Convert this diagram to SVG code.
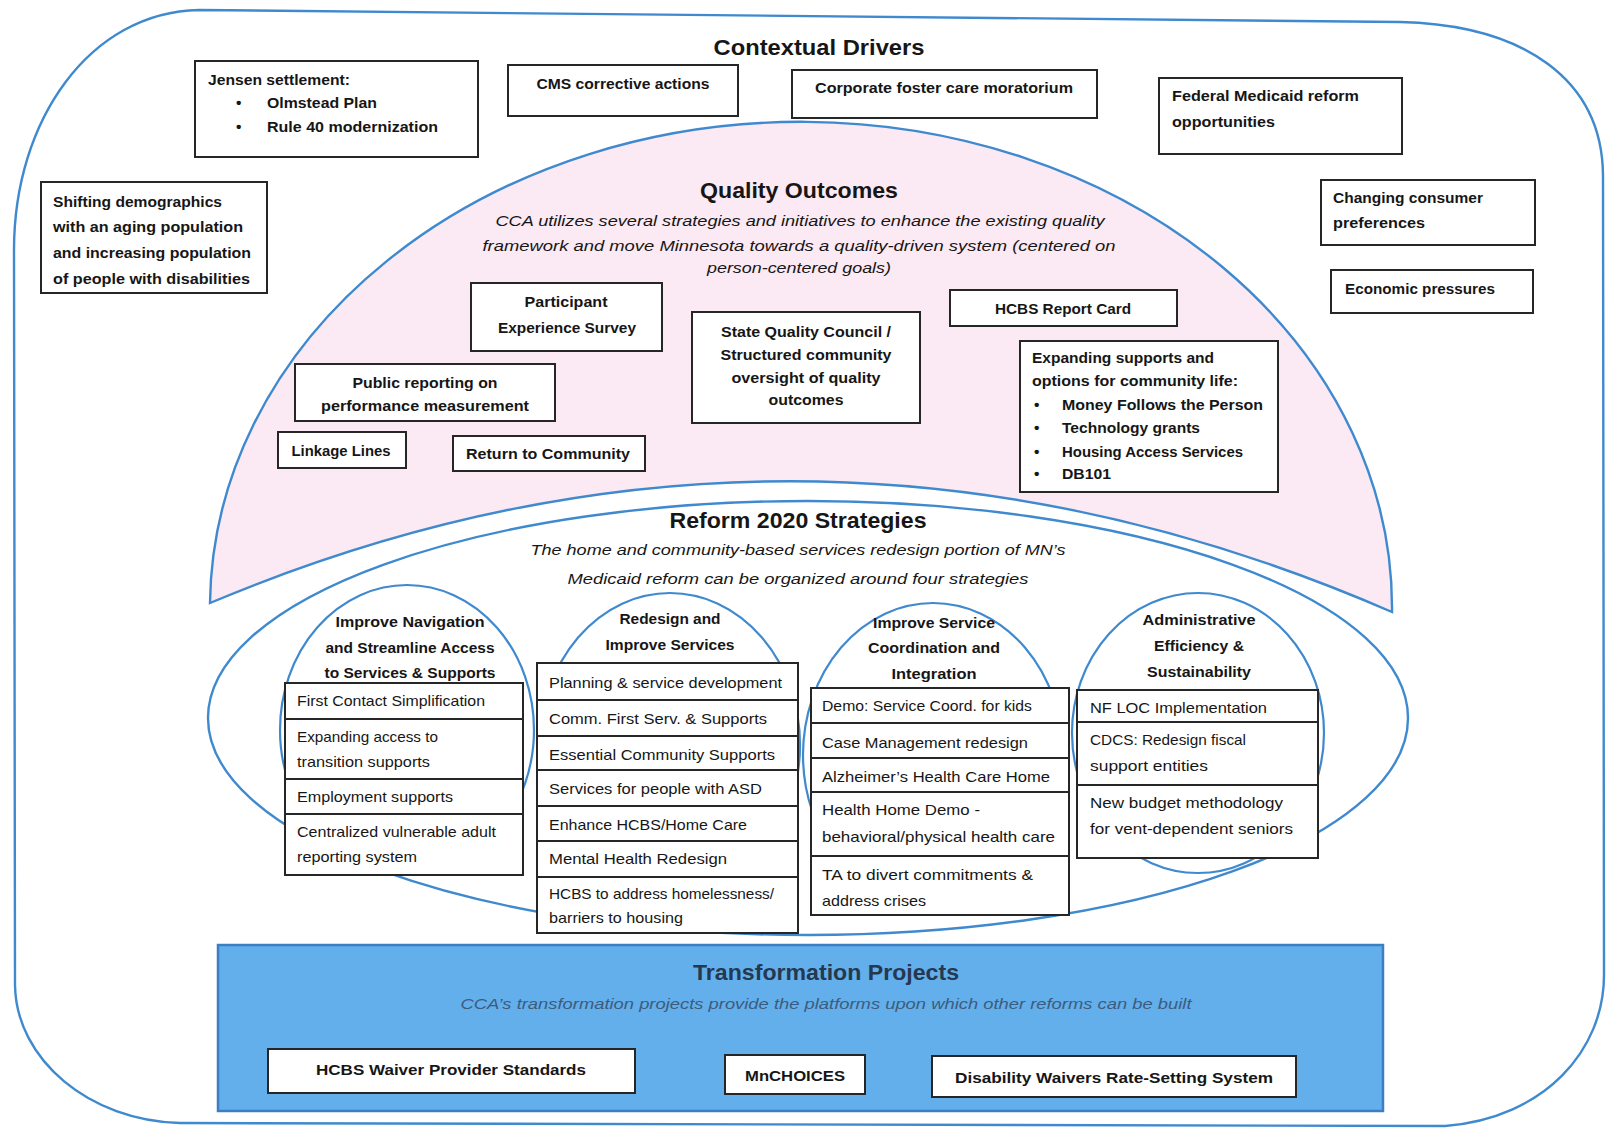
<svg xmlns="http://www.w3.org/2000/svg" width="1606" height="1132" viewBox="0 0 1606 1132">
<style>
text{font-family:"Liberation Sans",Arial,sans-serif;fill:#161616}
.b{font-weight:bold;font-size:15.5px}
.r{font-size:15px}
.t{font-weight:bold;font-size:22px}
.i{font-style:italic;font-size:15.5px}
.c{text-anchor:middle}
.box{fill:#fff;stroke:#262626;stroke-width:2}
.blue{fill:none;stroke:#3f89cf;stroke-width:2.4}
.circ{fill:#fff;stroke:#3f89cf;stroke-width:2.2}
.rule{stroke:#262626;stroke-width:2}
</style>
<rect width="1606" height="1132" fill="#fff"/>
<g id="frame">
<path class="blue" d="M 199 10 L 1400 22 C 1525 25 1602 80 1603 175 L 1604 975 C 1604 1050 1545 1118 1445 1126 L 180 1123 C 90 1121 16 1060 15 985 L 14 250 C 14 120 90 12 199 10 Z"/>
<text class="t c" x="819" y="55" textLength="211" lengthAdjust="spacingAndGlyphs">Contextual Drivers</text>
</g>
<g id="quality-outcomes">
<path d="M 210 603 A 590 485 0 0 1 1392 612 Q 800 355 210 603 Z" fill="#fbe9f3" stroke="#3f89cf" stroke-width="2.4"/>
<text class="t c" x="799" y="198" textLength="198" lengthAdjust="spacingAndGlyphs">Quality Outcomes</text>
<text class="i c" x="800" y="226" textLength="609" lengthAdjust="spacingAndGlyphs">CCA utilizes several strategies and initiatives to enhance the existing quality</text>
<text class="i c" x="799" y="251" textLength="633" lengthAdjust="spacingAndGlyphs">framework and move Minnesota towards a quality-driven system (centered on</text>
<text class="i c" x="799" y="273" textLength="184" lengthAdjust="spacingAndGlyphs">person-centered goals)</text>
</g>
<g id="reform-2020">
<ellipse class="blue" cx="808" cy="718" rx="600" ry="217"/>
<text class="t c" x="798" y="528" textLength="257" lengthAdjust="spacingAndGlyphs">Reform 2020 Strategies</text>
<text class="i c" x="798" y="555" textLength="535" lengthAdjust="spacingAndGlyphs">The home and community-based services redesign portion of MN’s</text>
<text class="i c" x="798" y="584" textLength="461" lengthAdjust="spacingAndGlyphs">Medicaid reform can be organized around four strategies</text>
</g>
<g id="jensen">
<rect class="box" x="195" y="61" width="283" height="96"/>
<text class="b" x="208" y="85" textLength="142" lengthAdjust="spacingAndGlyphs">Jensen settlement:</text>
<text class="b" x="236" y="108">•</text>
<text class="b" x="267" y="108" textLength="110" lengthAdjust="spacingAndGlyphs">Olmstead Plan</text>
<text class="b" x="236" y="132">•</text>
<text class="b" x="267" y="132" textLength="171" lengthAdjust="spacingAndGlyphs">Rule 40 modernization</text>
</g>
<g id="cms">
<rect class="box" x="508" y="65" width="230" height="51"/>
<text class="b c" x="623" y="89" textLength="173" lengthAdjust="spacingAndGlyphs">CMS corrective actions</text>
</g>
<g id="foster">
<rect class="box" x="792" y="70" width="305" height="48"/>
<text class="b c" x="944" y="93" textLength="258" lengthAdjust="spacingAndGlyphs">Corporate foster care moratorium</text>
</g>
<g id="federal">
<rect class="box" x="1159" y="78" width="243" height="76"/>
<text class="b" x="1172" y="101" textLength="187" lengthAdjust="spacingAndGlyphs">Federal Medicaid reform</text>
<text class="b" x="1172" y="127" textLength="103" lengthAdjust="spacingAndGlyphs">opportunities</text>
</g>
<g id="demographics">
<rect class="box" x="41" y="182" width="226" height="111"/>
<text class="b" x="53" y="207" textLength="169" lengthAdjust="spacingAndGlyphs">Shifting demographics</text>
<text class="b" x="53" y="232" textLength="190" lengthAdjust="spacingAndGlyphs">with an aging population</text>
<text class="b" x="53" y="258" textLength="198" lengthAdjust="spacingAndGlyphs">and increasing population</text>
<text class="b" x="53" y="284" textLength="197" lengthAdjust="spacingAndGlyphs">of people with disabilities</text>
</g>
<g id="consumer">
<rect class="box" x="1321" y="180" width="214" height="65"/>
<text class="b" x="1333" y="203" textLength="150" lengthAdjust="spacingAndGlyphs">Changing consumer</text>
<text class="b" x="1333" y="228" textLength="92" lengthAdjust="spacingAndGlyphs">preferences</text>
</g>
<g id="economic">
<rect class="box" x="1331" y="270" width="202" height="43"/>
<text class="b" x="1345" y="294" textLength="150" lengthAdjust="spacingAndGlyphs">Economic pressures</text>
</g>
<g id="participant">
<rect class="box" x="471" y="283" width="191" height="68"/>
<text class="b c" x="566" y="307" textLength="83" lengthAdjust="spacingAndGlyphs">Participant</text>
<text class="b c" x="567" y="333" textLength="138" lengthAdjust="spacingAndGlyphs">Experience Survey</text>
</g>
<g id="state-quality">
<rect class="box" x="692" y="312" width="228" height="111"/>
<text class="b c" x="806" y="337" textLength="170" lengthAdjust="spacingAndGlyphs">State Quality Council /</text>
<text class="b c" x="806" y="360" textLength="171" lengthAdjust="spacingAndGlyphs">Structured community</text>
<text class="b c" x="806" y="383" textLength="149" lengthAdjust="spacingAndGlyphs">oversight of quality</text>
<text class="b c" x="806" y="405" textLength="75" lengthAdjust="spacingAndGlyphs">outcomes</text>
</g>
<g id="report-card">
<rect class="box" x="950" y="290" width="227" height="36"/>
<text class="b c" x="1063" y="314" textLength="136" lengthAdjust="spacingAndGlyphs">HCBS Report Card</text>
</g>
<g id="public-reporting">
<rect class="box" x="295" y="364" width="260" height="57"/>
<text class="b c" x="425" y="388" textLength="145" lengthAdjust="spacingAndGlyphs">Public reporting on</text>
<text class="b c" x="425" y="411" textLength="208" lengthAdjust="spacingAndGlyphs">performance measurement</text>
</g>
<g id="linkage">
<rect class="box" x="278" y="432" width="128" height="36"/>
<text class="b c" x="341" y="456" textLength="99" lengthAdjust="spacingAndGlyphs">Linkage Lines</text>
</g>
<g id="return">
<rect class="box" x="453" y="436" width="192" height="35"/>
<text class="b c" x="548" y="459" textLength="164" lengthAdjust="spacingAndGlyphs">Return to Community</text>
</g>
<g id="expanding">
<rect class="box" x="1020" y="341" width="258" height="151"/>
<text class="b" x="1032" y="363" textLength="182" lengthAdjust="spacingAndGlyphs">Expanding supports and</text>
<text class="b" x="1032" y="386" textLength="206" lengthAdjust="spacingAndGlyphs">options for community life:</text>
<text class="b" x="1034" y="410">•</text>
<text class="b" x="1062" y="410" textLength="201" lengthAdjust="spacingAndGlyphs">Money Follows the Person</text>
<text class="b" x="1034" y="433">•</text>
<text class="b" x="1062" y="433" textLength="138" lengthAdjust="spacingAndGlyphs">Technology grants</text>
<text class="b" x="1034" y="457">•</text>
<text class="b" x="1062" y="457" textLength="181" lengthAdjust="spacingAndGlyphs">Housing Access Services</text>
<text class="b" x="1034" y="479">•</text>
<text class="b" x="1062" y="479" textLength="49" lengthAdjust="spacingAndGlyphs">DB101</text>
</g>
<g id="navigation">
<ellipse class="circ" cx="407" cy="730" rx="127" ry="145"/>
<text class="b c" x="410" y="627" textLength="149" lengthAdjust="spacingAndGlyphs">Improve Navigation</text>
<text class="b c" x="410" y="653" textLength="169" lengthAdjust="spacingAndGlyphs">and Streamline Access</text>
<text class="b c" x="410" y="678" textLength="171" lengthAdjust="spacingAndGlyphs">to Services &amp; Supports</text>
<rect class="box" x="285" y="683" width="238" height="192"/>
<path class="rule" d="M285 719H523M285 779H523M285 814H523"/>
<text class="r" x="297" y="706" textLength="188" lengthAdjust="spacingAndGlyphs">First Contact Simplification</text>
<text class="r" x="297" y="742" textLength="141" lengthAdjust="spacingAndGlyphs">Expanding access to</text>
<text class="r" x="297" y="767" textLength="133" lengthAdjust="spacingAndGlyphs">transition supports</text>
<text class="r" x="297" y="802" textLength="156" lengthAdjust="spacingAndGlyphs">Employment supports</text>
<text class="r" x="297" y="837" textLength="199" lengthAdjust="spacingAndGlyphs">Centralized vulnerable adult</text>
<text class="r" x="297" y="862" textLength="120" lengthAdjust="spacingAndGlyphs">reporting system</text>
</g>
<g id="redesign">
<ellipse class="circ" cx="670" cy="745" rx="130" ry="152"/>
<text class="b c" x="670" y="624" textLength="101" lengthAdjust="spacingAndGlyphs">Redesign and</text>
<text class="b c" x="670" y="650" textLength="129" lengthAdjust="spacingAndGlyphs">Improve Services</text>
<rect class="box" x="537" y="663" width="261" height="270"/>
<path class="rule" d="M537 700H798M537 736H798M537 770H798M537 806H798M537 841H798M537 877H798"/>
<text class="r" x="549" y="688" textLength="233" lengthAdjust="spacingAndGlyphs">Planning &amp; service development</text>
<text class="r" x="549" y="724" textLength="218" lengthAdjust="spacingAndGlyphs">Comm. First Serv. &amp; Supports</text>
<text class="r" x="549" y="760" textLength="226" lengthAdjust="spacingAndGlyphs">Essential Community Supports</text>
<text class="r" x="549" y="794" textLength="213" lengthAdjust="spacingAndGlyphs">Services for people with ASD</text>
<text class="r" x="549" y="830" textLength="198" lengthAdjust="spacingAndGlyphs">Enhance HCBS/Home Care</text>
<text class="r" x="549" y="864" textLength="178" lengthAdjust="spacingAndGlyphs">Mental Health Redesign</text>
<text class="r" x="549" y="899" textLength="225" lengthAdjust="spacingAndGlyphs">HCBS to address homelessness/</text>
<text class="r" x="549" y="923" textLength="134" lengthAdjust="spacingAndGlyphs">barriers to housing</text>
</g>
<g id="coordination">
<ellipse class="circ" cx="933" cy="755" rx="130" ry="152"/>
<text class="b c" x="934" y="628" textLength="122" lengthAdjust="spacingAndGlyphs">Improve Service</text>
<text class="b c" x="934" y="653" textLength="132" lengthAdjust="spacingAndGlyphs">Coordination and</text>
<text class="b c" x="934" y="679" textLength="85" lengthAdjust="spacingAndGlyphs">Integration</text>
<rect class="box" x="811" y="688" width="258" height="227"/>
<path class="rule" d="M811 723H1069M811 758H1069M811 792H1069M811 856H1069"/>
<text class="r" x="822" y="711" textLength="210" lengthAdjust="spacingAndGlyphs">Demo: Service Coord. for kids</text>
<text class="r" x="822" y="748" textLength="206" lengthAdjust="spacingAndGlyphs">Case Management redesign</text>
<text class="r" x="822" y="782" textLength="228" lengthAdjust="spacingAndGlyphs">Alzheimer’s Health Care Home</text>
<text class="r" x="822" y="815" textLength="158" lengthAdjust="spacingAndGlyphs">Health Home Demo -</text>
<text class="r" x="822" y="842" textLength="233" lengthAdjust="spacingAndGlyphs">behavioral/physical health care</text>
<text class="r" x="822" y="880" textLength="211" lengthAdjust="spacingAndGlyphs">TA to divert commitments &amp;</text>
<text class="r" x="822" y="906" textLength="104" lengthAdjust="spacingAndGlyphs">address crises</text>
</g>
<g id="administrative">
<ellipse class="circ" cx="1198" cy="733" rx="126" ry="140"/>
<text class="b c" x="1199" y="625" textLength="113" lengthAdjust="spacingAndGlyphs">Administrative</text>
<text class="b c" x="1199" y="651" textLength="90" lengthAdjust="spacingAndGlyphs">Efficiency &amp;</text>
<text class="b c" x="1199" y="677" textLength="104" lengthAdjust="spacingAndGlyphs">Sustainability</text>
<rect class="box" x="1077" y="690" width="241" height="168"/>
<path class="rule" d="M1077 722H1318M1077 785H1318"/>
<text class="r" x="1090" y="713" textLength="177" lengthAdjust="spacingAndGlyphs">NF LOC Implementation</text>
<text class="r" x="1090" y="745" textLength="156" lengthAdjust="spacingAndGlyphs">CDCS: Redesign fiscal</text>
<text class="r" x="1090" y="771" textLength="118" lengthAdjust="spacingAndGlyphs">support entities</text>
<text class="r" x="1090" y="808" textLength="193" lengthAdjust="spacingAndGlyphs">New budget methodology</text>
<text class="r" x="1090" y="834" textLength="203" lengthAdjust="spacingAndGlyphs">for vent-dependent seniors</text>
</g>
<g id="transformation">
<rect x="218" y="945" width="1165" height="166" fill="#62afeb" stroke="#3b7fc2" stroke-width="2.5"/>
<text class="t c" x="826" y="980" textLength="266" lengthAdjust="spacingAndGlyphs" style="fill:#26384f">Transformation Projects</text>
<text class="i c" x="826" y="1009" textLength="731" lengthAdjust="spacingAndGlyphs" style="fill:#3f5b7c">CCA’s transformation projects provide the platforms upon which other reforms can be built</text>
</g>
<g id="waiver-standards">
<rect class="box" x="268" y="1049" width="367" height="44"/>
<text class="b c" x="451" y="1075" textLength="270" lengthAdjust="spacingAndGlyphs">HCBS Waiver Provider Standards</text>
</g>
<g id="mnchoices">
<rect class="box" x="725" y="1055" width="140" height="39"/>
<text class="b c" x="795" y="1081" textLength="100" lengthAdjust="spacingAndGlyphs">MnCHOICES</text>
</g>
<g id="rate-setting">
<rect class="box" x="932" y="1056" width="364" height="41"/>
<text class="b c" x="1114" y="1083" textLength="318" lengthAdjust="spacingAndGlyphs">Disability Waivers Rate-Setting System</text>
</g>
<g id="connectors"/>
</svg>
